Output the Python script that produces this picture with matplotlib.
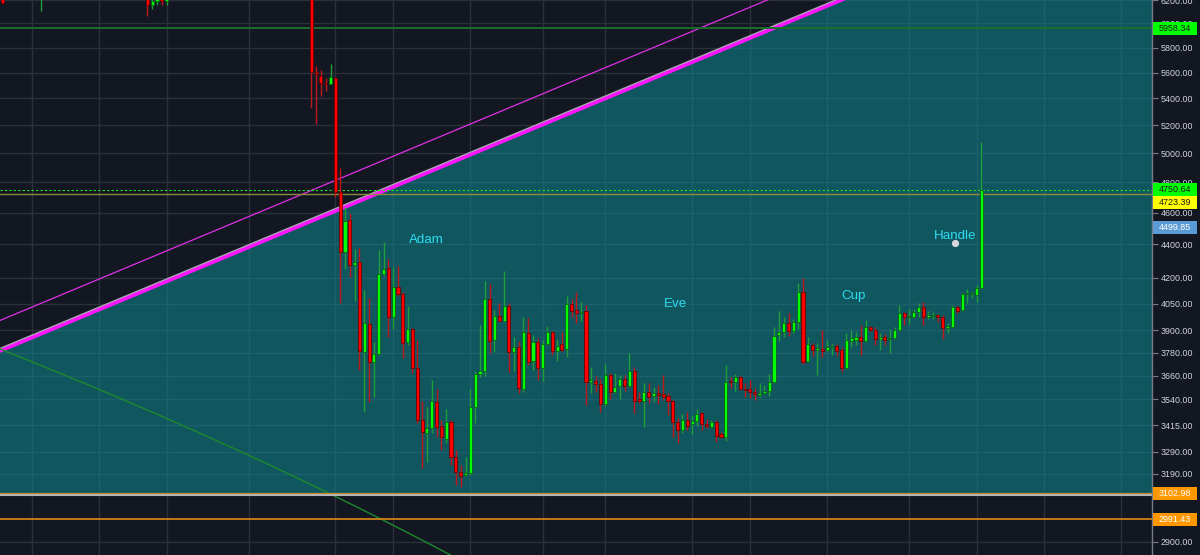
import numpy as np
import matplotlib.pyplot as plt
from matplotlib.patches import Rectangle
from matplotlib.ticker import NullLocator

plt.rcParams['font.family'] = ['Liberation Sans', 'DejaVu Sans']

BG = '#131722'

# a few candles in the top-left corner (mostly above the visible range)
early_idx = [0, 8, 30, 31, 32, 33, 34]
early_open = [6260, 6230, 6280, 6157, 6190, 6215, 6190]
early_high = [6290, 6320, 6300, 6215, 6230, 6230, 6230]
early_low = [6170, 6109, 6066, 6122, 6160, 6157, 6160]
early_close = [6177, 6300, 6157, 6191, 6215, 6195, 6210]

# main run of candles, bar index 64 .. 203
start_idx = 64
opens = [6350, 5604, 5573, 5519, 5511, 5558, 4736, 4354, 4554, 4275,
         4293, 3784, 3935, 3732, 3773, 4221, 4257, 3974, 4145, 4105,
         3837, 3908, 3699, 3439, 3378, 3401, 3527, 3411, 3349, 3430,
         3266, 3197, 3184, 3193, 3503, 3669, 3684, 4076, 3848, 3980,
         3952, 4036, 3784, 3810, 3592, 3886, 3737, 3837, 3699, 3827,
         3891, 3789, 3827, 3800, 4047, 4013, 3997, 4008, 3628, 3633,
         3618, 3517, 3664, 3577, 3607, 3643, 3607, 3684, 3542, 3532,
         3577, 3557, 3572, 3567, 3557, 3532, 3430, 3392, 3439, 3420,
         3435, 3473, 3420, 3406, 3430, 3373, 3358, 3633, 3628, 3653,
         3592, 3592, 3577, 3563, 3572, 3582, 3628, 3875, 3891, 3941,
         3897, 3946, 4116, 3737, 3821, 3794, 3800, 3794, 3810, 3816,
         3794, 3699, 3843, 3848, 3864, 3843, 3919, 3902, 3853, 3864,
         3853, 3859, 3902, 3997, 3974, 3974, 4002, 4030, 3974, 3980,
         3986, 3974, 3913, 3919, 4030, 4013, 4105, 4102, 4099, 4140]
highs = [6400, 5652, 5620, 5558, 5668, 5565, 4898, 4637, 4599, 4372,
         4378, 4128, 4082, 3837, 4366, 4416, 4311, 4263, 4269, 4116,
         4036, 3913, 3848, 3532, 3503, 3638, 3592, 3439, 3493, 3439,
         3298, 3229, 3266, 3592, 3684, 3930, 4180, 4163, 4013, 4053,
         4239, 4053, 3864, 3843, 3974, 3969, 3875, 3859, 3848, 3924,
         3897, 3853, 3891, 4093, 4076, 4116, 4059, 4042, 3705, 3658,
         3643, 3720, 3674, 3674, 3664, 3664, 3778, 3705, 3577, 3623,
         3623, 3602, 3612, 3664, 3572, 3537, 3449, 3468, 3478, 3463,
         3493, 3478, 3444, 3439, 3439, 3382, 3715, 3653, 3669, 3658,
         3623, 3638, 3597, 3624, 3612, 3669, 3919, 4008, 3974, 3997,
         3963, 4169, 4198, 3864, 3832, 3832, 3902, 3848, 3827, 3827,
         3810, 3886, 3902, 3891, 3930, 3958, 3924, 3919, 3886, 3880,
         3908, 3919, 4042, 4002, 4019, 4019, 4053, 4059, 4008, 4002,
         3991, 3986, 3941, 4042, 4036, 4110, 4134, 4116, 4157, 5080]
lows = [5330, 5210, 5419, 5457, 5507, 4703, 4053, 4251, 4204, 4064,
        3689, 3478, 3527, 3552, 3768, 4209, 3864, 3908, 4093, 3752,
        3821, 3674, 3425, 3215, 3243, 3378, 3358, 3298, 3330, 3229,
        3140, 3131, 3179, 3184, 3425, 3653, 3659, 3778, 3784, 3946,
        3946, 3679, 3684, 3572, 3577, 3716, 3689, 3638, 3633, 3821,
        3768, 3737, 3789, 3758, 3974, 3941, 3952, 3513, 3572, 3577,
        3478, 3508, 3542, 3572, 3542, 3582, 3602, 3473, 3522, 3406,
        3522, 3527, 3517, 3537, 3463, 3358, 3330, 3378, 3392, 3373,
        3411, 3392, 3401, 3401, 3335, 3354, 3340, 3597, 3582, 3587,
        3552, 3547, 3537, 3553, 3567, 3557, 3623, 3843, 3864, 3870,
        3886, 3908, 3721, 3732, 3763, 3664, 3758, 3789, 3768, 3763,
        3679, 3694, 3810, 3821, 3768, 3837, 3897, 3821, 3794, 3821,
        3778, 3853, 3897, 3930, 3935, 3969, 3974, 3930, 3963, 3963,
        3946, 3853, 3886, 3919, 3997, 4008, 4053, 4082, 4059, 4134]
closes = [5607, 5589, 5519, 5511, 5565, 4736, 4354, 4548, 4275, 4293,
          3789, 3941, 3732, 3773, 4221, 4251, 3974, 4145, 4105, 3832,
          3908, 3699, 3439, 3382, 3401, 3532, 3406, 3358, 3430, 3266,
          3197, 3179, 3193, 3503, 3669, 3684, 4076, 3843, 3980, 3952,
          4036, 3784, 3810, 3597, 3891, 3732, 3837, 3699, 3827, 3891,
          3789, 3816, 3794, 4047, 4008, 3997, 4002, 3628, 3638, 3618,
          3517, 3664, 3577, 3602, 3643, 3607, 3684, 3532, 3532, 3577,
          3552, 3572, 3562, 3552, 3532, 3430, 3392, 3439, 3411, 3435,
          3468, 3420, 3411, 3430, 3363, 3358, 3628, 3628, 3653, 3592,
          3587, 3577, 3567, 3573, 3582, 3628, 3870, 3891, 3941, 3897,
          3946, 4116, 3732, 3827, 3794, 3805, 3789, 3810, 3816, 3789,
          3699, 3848, 3859, 3864, 3843, 3919, 3902, 3853, 3864, 3848,
          3859, 3902, 3997, 3974, 3977, 4002, 4030, 3974, 3986, 3986,
          3974, 3913, 3924, 4030, 4008, 4105, 4110, 4110, 4140, 4750.64]

# price axis
tick_prices = [2900, 3190, 3290, 3415, 3540, 3660, 3780, 3900, 4050, 4200,
               4400, 4600, 4800, 5000, 5200, 5400, 5600, 5800, 6000, 6200]
# vertical (time) grid lines, as bar indices
vgrid_idx = [6, 20, 34, 51, 69, 81, 97, 112, 125, 143, 155, 171, 188, 202, 216, 232]

# drawn trend lines: (bar index, price) anchor pairs
thick_line = [(-0.56, 3789), (174.0, 6200)]      # straight on the log chart
thick_line_edge = [(-0.56, 3800), (173.0, 6200)]
thin_line = [(-0.56, 3955), (158.6, 6200)]
green_diag = [(-0.56, 3800), (68.1, 3099)]       # straight in linear price

# horizontal levels with price tags: price, tag price (where the tag sits), colours
tag_prices = [5958.34, 4750.64, 4723.39, 4499.85, 3102.98, 2991.43]
tag_pos = [5958.34, 4754, 4667, 4507, 3102.98, 2991.43]
tag_face = ['#00ff00', '#00ff00', '#ffff00', '#5b9bd5', '#ff9800', '#ff9800']
tag_text = ['#1b1b1b', '#1b1b1b', '#1b1b1b', '#ffffff', '#ffffff', '#ffffff']

notes = ['Adam', 'Eve', 'Cup', 'Handle']
note_x = [87.8, 139.5, 176.5, 197.5]
note_y = [4428, 4047, 4093, 4453]
dot_x, dot_y = 197.5, 4408

XMIN, XMAX = -0.56, 238.4
YMIN, YMAX = 2846, 6200


def on_log_line(pts, x):
    (x0, p0), (x1, p1) = pts
    t = (x - x0) / (x1 - x0)
    return np.exp(np.log(p0) + t * (np.log(p1) - np.log(p0)))


def on_lin_line(pts, x):
    (x0, p0), (x1, p1) = pts
    return p0 + (x - x0) * (p1 - p0) / (x1 - x0)


fig = plt.figure(figsize=(12, 5.55), dpi=100, facecolor=BG)
ax = fig.add_axes([0, 0, 1152 / 1200, 1])
ax.set_facecolor(BG)
ax.set_yscale('log')
ax.set_xlim(XMIN, XMAX)
ax.set_ylim(YMIN, YMAX)

# grid
ax.set_xticks(vgrid_idx)
ax.set_xticklabels([])
ax.yaxis.set_minor_locator(NullLocator())
ax.set_yticks(tick_prices)
ax.set_yticklabels(['%.2f' % p for p in tick_prices])
ax.grid(True, color='#2c303b', linewidth=1.0, zorder=0)
ax.set_axisbelow(True)
ax.yaxis.tick_right()
ax.tick_params(axis='x', length=0)
ax.tick_params(axis='y', which='major', length=4, width=0.8, color='#787b86',
               labelcolor='#d1d4dc', labelsize=6.4, pad=2)
for s in ['top', 'left', 'bottom']:
    ax.spines[s].set_visible(False)
ax.spines['right'].set_color('#787b86')
ax.spines['right'].set_linewidth(1.0)

# teal zone under the thick trend line
x_top = XMAX + 5
poly_x = [XMIN - 1, XMIN - 1, x_top, x_top]
poly_y = [3102.98, on_log_line(thick_line, XMIN - 1), on_log_line(thick_line, x_top), 3102.98]
ax.fill(poly_x, poly_y, color='#0e8a93', alpha=0.55, lw=0, zorder=1)

# trend lines
xs = np.array([XMIN - 1, x_top])
ax.plot(xs, on_log_line(thin_line, xs), color='#e030e8', lw=0.9, zorder=2)
ax.plot(xs, on_log_line(thick_line_edge, xs), color='#a8a8b0', lw=1.6, zorder=2)
ax.plot(xs, on_log_line(thick_line, xs), color='#ff14ff', lw=2.5, zorder=2)
xg = np.linspace(XMIN - 1, 110, 200)
ax.plot(xg, on_lin_line(green_diag, xg), color='#1c8a2c', lw=1.0, zorder=2)

# horizontal levels
ax.axhline(5958.34, color='#1b6f2b', lw=1.4, zorder=2)
ax.axhline(4750.64, color='#22e622', lw=0.8, ls=(0, (2, 2)), zorder=2)
ax.axhline(4723.39, color='#8c8c3c', lw=1.0, zorder=2)
ax.axhline(3098, color='#b4b4bc', lw=1.5, zorder=2)
ax.axhline(3102.98, color='#c08a2a', lw=0.9, zorder=2)
ax.axhline(2991.43, color='#e08a10', lw=1.2, zorder=2)


def draw_candles(idx, o, h, l, c):
    idx = np.asarray(idx, float)
    o, h, l, c = (np.asarray(a, float) for a in (o, h, l, c))
    up = c >= o
    wick_col = np.where(up, '#1f9e3a', '#c0181a')
    ax.vlines(idx, l, h, colors=wick_col, lw=1.0, zorder=3)
    bot = np.minimum(o, c)
    top = np.maximum(o, c)
    ht = np.maximum(top - bot, bot * 0.0015)
    ax.bar(idx[up], ht[up], bottom=bot[up], width=0.64, color='#00ff00',
           edgecolor='#0b5e1c', lw=0.6, zorder=4)
    ax.bar(idx[~up], ht[~up], bottom=bot[~up], width=0.64, color='#ff0000',
           edgecolor='#6e0000', lw=0.6, zorder=4)


draw_candles(early_idx, early_open, early_high, early_low, early_close)
main_idx = np.arange(start_idx, start_idx + len(opens))
draw_candles(main_idx, opens, highs, lows, closes)

# pattern annotations
for t, x, y in zip(notes, note_x, note_y):
    ax.text(x, y, t, color='#2fdcf0', fontsize=9.6, ha='center', va='center', zorder=6)
ax.plot([dot_x], [dot_y], 'o', ms=4.2, color='#d8d8dc', zorder=6)

# price tags on the axis
fig.canvas.draw()
for price, pos, face, fg in zip(tag_prices, tag_pos, tag_face, tag_text):
    yd = ax.transData.transform((0, pos))[1] / fig.bbox.height
    fig.patches.append(Rectangle((1153 / 1200, yd - 6.5 / 555), 44 / 1200, 13 / 555,
                                 transform=fig.transFigure, fc=face, ec='none', zorder=10))
    fig.text(1175 / 1200, yd, '%.2f' % price, ha='center', va='center',
             fontsize=6.4, color=fg, zorder=11)

fig.savefig('out.png', dpi=100, facecolor=BG)
